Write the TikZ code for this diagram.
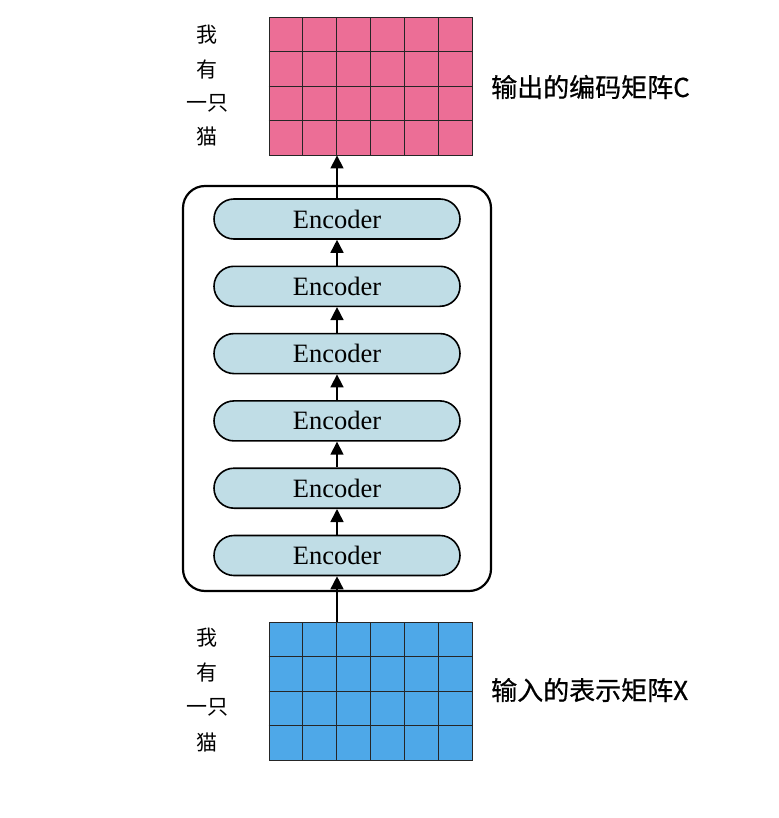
\documentclass[tikz,border=0pt]{standalone}
\usepackage{fontspec}
\setmainfont{Liberation Serif}
\newfontfamily\cjk{Noto Sans CJK SC}
\newfontfamily\cjkm[FakeBold=0.6]{Noto Sans CJK SC}
\usetikzlibrary{shapes.misc,arrows.meta,calc}
\definecolor{pinkc}{RGB}{236,110,150}
\definecolor{bluec}{RGB}{78,168,232}
\definecolor{encc}{RGB}{192,221,230}
\tikzset{
  gridbox/.style={draw=black!85,line width=0.9pt,minimum width=203pt,minimum height=138pt,inner sep=0pt},
  encbox/.style={rounded rectangle,draw=black,line width=1.6pt,fill=encc,minimum width=246pt,minimum height=40pt,inner sep=0pt,font=\fontsize{26.5}{29}\selectfont},
  stackbox/.style={draw=black,line width=2.2pt,rounded corners=22pt,minimum width=308pt,minimum height=405pt,inner sep=0pt},
  arr/.style={line width=1.6pt,-{Triangle[length=13pt,width=13pt]}},
  cjklab/.style={font=\cjk\fontsize{21}{24}\selectfont,inner sep=0pt},
  rlab/.style={font=\cjkm\fontsize{26}{30}\selectfont,anchor=west,inner sep=0pt},
  cellline/.style={draw=black!85,line width=0.9pt}
}
\begin{document}
\begin{tikzpicture}[x=1pt,y=-1pt]
\useasboundingbox (0,0) rectangle (778,818);
% outer stack box
\node[stackbox] (stack) at (337,388.5) {};
% grids
\node[gridbox,fill=pinkc] (outgrid) at (370.5,86) {};
\node[gridbox,fill=bluec] (ingrid) at (370.5,691) {};
\foreach \g in {outgrid,ingrid}{
  \foreach \i in {1,...,5}{
    \draw[cellline] ($(\g.south west)!\i/6!(\g.south east)$) -- ($(\g.north west)!\i/6!(\g.north east)$);
  }
  \foreach \j in {1,2,3}{
    \draw[cellline] ($(\g.south west)!\j/4!(\g.north west)$) -- ($(\g.south east)!\j/4!(\g.north east)$);
  }
}
% encoders
\node[encbox] (e1) at (337,219) {Encoder};
\node[encbox] (e2) at (337,286.3) {Encoder};
\node[encbox] (e3) at (337,353.6) {Encoder};
\node[encbox] (e4) at (337,420.9) {Encoder};
\node[encbox] (e5) at (337,488.2) {Encoder};
\node[encbox] (e6) at (337,555.5) {Encoder};
% arrows
\draw[arr] (e6.south |- ingrid.north) -- (e6.south);
\draw[arr] (e6.north) -- (e5.south);
\draw[arr] (e5.north) -- (e4.south);
\draw[arr] (e4.north) -- (e3.south);
\draw[arr] (e3.north) -- (e2.south);
\draw[arr] (e2.north) -- (e1.south);
\draw[arr] (e1.north) -- (e1.north |- outgrid.south);
% left labels top
\node[cjklab] (t1) at (207,35) {我};
\node[cjklab] (t2) at (207,70) {有};
\node[cjklab] (t3) at (207,103) {一只};
\node[cjklab] (t4) at (207,137) {猫};
% left labels bottom
\node[cjklab] (b1) at (207,638) {我};
\node[cjklab] (b2) at (207,673) {有};
\node[cjklab] (b3) at (207,707) {一只};
\node[cjklab] (b4) at (207,742) {猫};
% right labels
\node[rlab] (outlab) at (491,87) {输出的编码矩阵C};
\node[rlab] (inlab) at (491,690) {输入的表示矩阵X};
\end{tikzpicture}
\end{document}
